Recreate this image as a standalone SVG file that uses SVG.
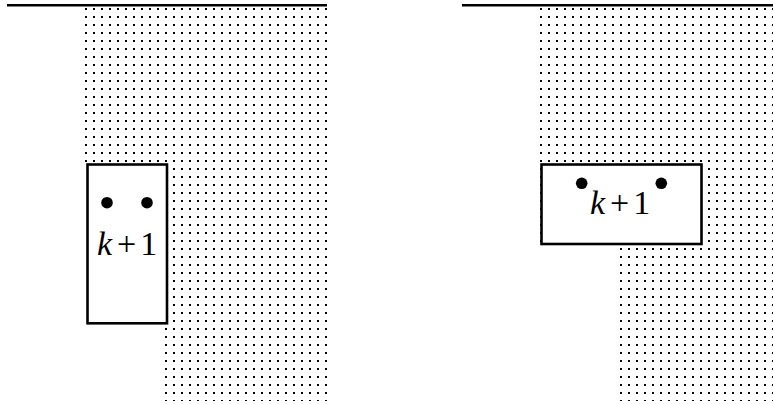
<svg xmlns="http://www.w3.org/2000/svg" width="773" height="404" viewBox="0 0 773 404">
<style>
.line{stroke:#000;stroke-width:2.6;fill:none}
.box{stroke:#000;stroke-width:2.6;fill:#fff}
.pt{fill:#000}
.lbl{font-family:"Liberation Serif","Times New Roman",serif;font-size:34px;fill:#000}
</style>
<defs>
<pattern id="dotsL" x="85" y="8" width="8" height="8" patternUnits="userSpaceOnUse"><rect x="0" y="0" width="2" height="2" fill="#000"/></pattern>
<pattern id="dotsR" x="540" y="8" width="8" height="8" patternUnits="userSpaceOnUse"><rect x="0" y="0" width="2" height="2" fill="#000"/></pattern>
</defs>
<g id="left-panel">
<line class="line" x1="7" y1="5.2" x2="327" y2="5.2"/>
<path id="left-shade" d="M85,7 H328 V401 H165 V164 H85 Z" fill="url(#dotsL)"/>
<g id="left-box">
<rect class="box" x="87.5" y="164.5" width="79.5" height="158.8"/>
<circle class="pt" cx="107" cy="202.7" r="5.8"/>
<circle class="pt" cx="147" cy="202.7" r="5.8"/>
<text class="lbl" x="97" y="255"><tspan font-style="italic">k</tspan><tspan dx="5">+</tspan><tspan dx="4">1</tspan></text>
</g>
</g>
<g id="right-panel">
<line class="line" x1="462" y1="5.2" x2="773" y2="5.2"/>
<path id="right-shade" d="M539,7 H773 V401 H619 V244 H539 Z" fill="url(#dotsR)"/>
<g id="right-box">
<rect class="box" x="541.5" y="164.5" width="160" height="79.5"/>
<circle class="pt" cx="581.7" cy="183.3" r="5.8"/>
<circle class="pt" cx="661.3" cy="183.3" r="5.8"/>
<text class="lbl" x="590" y="214"><tspan font-style="italic">k</tspan><tspan dx="5">+</tspan><tspan dx="4">1</tspan></text>
</g>
</g>
</svg>
